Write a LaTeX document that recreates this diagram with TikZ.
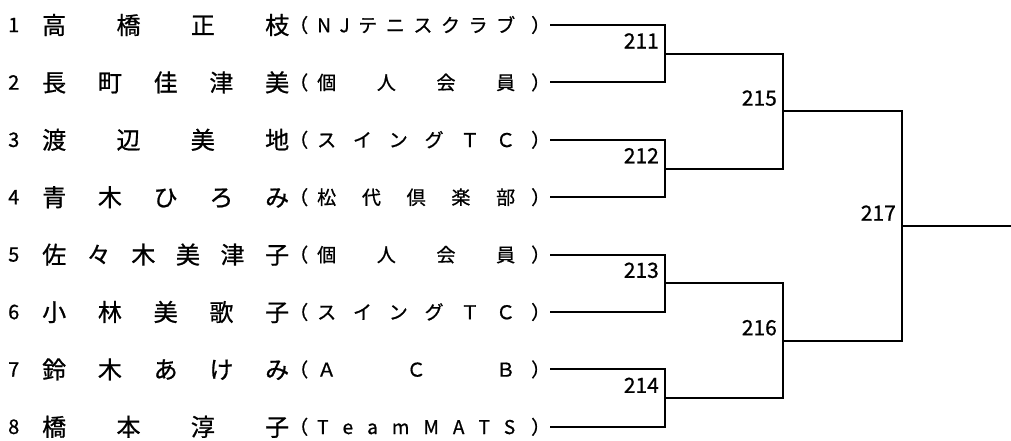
\documentclass[tikz,border=0pt]{standalone}
\usepackage{fontspec}
\setmainfont{Noto Sans CJK JP}[FakeBold=0.8]
\usetikzlibrary{positioning}

\newcommand{\namefield}[1]{\makebox[247pt][s]{#1}}
\newcommand{\clubfield}[1]{（\hspace{9pt}\makebox[198pt][s]{#1}\hspace{16pt}）\hspace{-4pt}}

\begin{document}
\begin{tikzpicture}[x=1pt,y=-1pt,
    num/.style={anchor=west,inner sep=0pt,font=\fontsize{20}{20}\selectfont},
    player/.style={anchor=west,inner sep=0pt,font=\fontsize{24}{24}\selectfont},
    club/.style={anchor=west,inner sep=0pt,font=\fontsize{19}{19}\selectfont},
    bracket/.style={line width=2pt},
    matchno/.style={anchor=south east,inner sep=0pt,xshift=-6pt,yshift=5pt,font=\fontsize{21}{21}\selectfont}]
    \useasboundingbox (0,0) rectangle (1011,440);

    % Players: number, name, club
    \foreach \i/\nm/\cl in {
        1/{高 橋 正 枝}/{N J テ ニ ス ク ラ ブ},
        2/{長 町 佳 津 美}/{個 人 会 員},
        3/{渡 辺 美 地}/{ス イ ン グ Ｔ Ｃ},
        4/{青 木 ひ ろ み}/{松 代 倶 楽 部},
        5/{佐 々 木 美 津 子}/{個 人 会 員},
        6/{小 林 美 歌 子}/{ス イ ン グ Ｔ Ｃ},
        7/{鈴 木 あ け み}/{Ａ Ｃ Ｂ},
        8/{橋 本 淳 子}/{T e a m M A T S}}
    {
        \pgfmathsetmacro{\rowy}{25+(\i-1)*57.4}
        \node[num] (n\i) at (8,\rowy) {\i};
        \node[player] (nm\i) at (42,\rowy) {\namefield{\nm}};
        \node[club] (c\i) at (289,\rowy) {\clubfield{\cl}};
    }

    % First round
    \coordinate (m211) at (665,53.7);
    \coordinate (m212) at (665,168.5);
    \coordinate (m213) at (665,283.3);
    \coordinate (m214) at (665,398.1);
    \draw[bracket] (c1.east) -| (m211) |- (c2.east);
    \draw[bracket] (c3.east) -| (m212) |- (c4.east);
    \draw[bracket] (c5.east) -| (m213) |- (c6.east);
    \draw[bracket] (c7.east) -| (m214) |- (c8.east);

    % Second round
    \coordinate (m215) at (783,111.1);
    \coordinate (m216) at (783,340.7);
    \draw[bracket] (m211) -| (m215) |- (m212);
    \draw[bracket] (m213) -| (m216) |- (m214);

    % Final
    \coordinate (m217) at (902,225.9);
    \coordinate (winner) at (1011,225.9);
    \draw[bracket] (m215) -| (m217) |- (m216);
    \draw[bracket] (m217) -- (winner);

    % Match numbers
    \foreach \m in {211,212,213,214,215,216,217}
        \node[matchno] (l\m) at (m\m) {\m};
\end{tikzpicture}
\end{document}
